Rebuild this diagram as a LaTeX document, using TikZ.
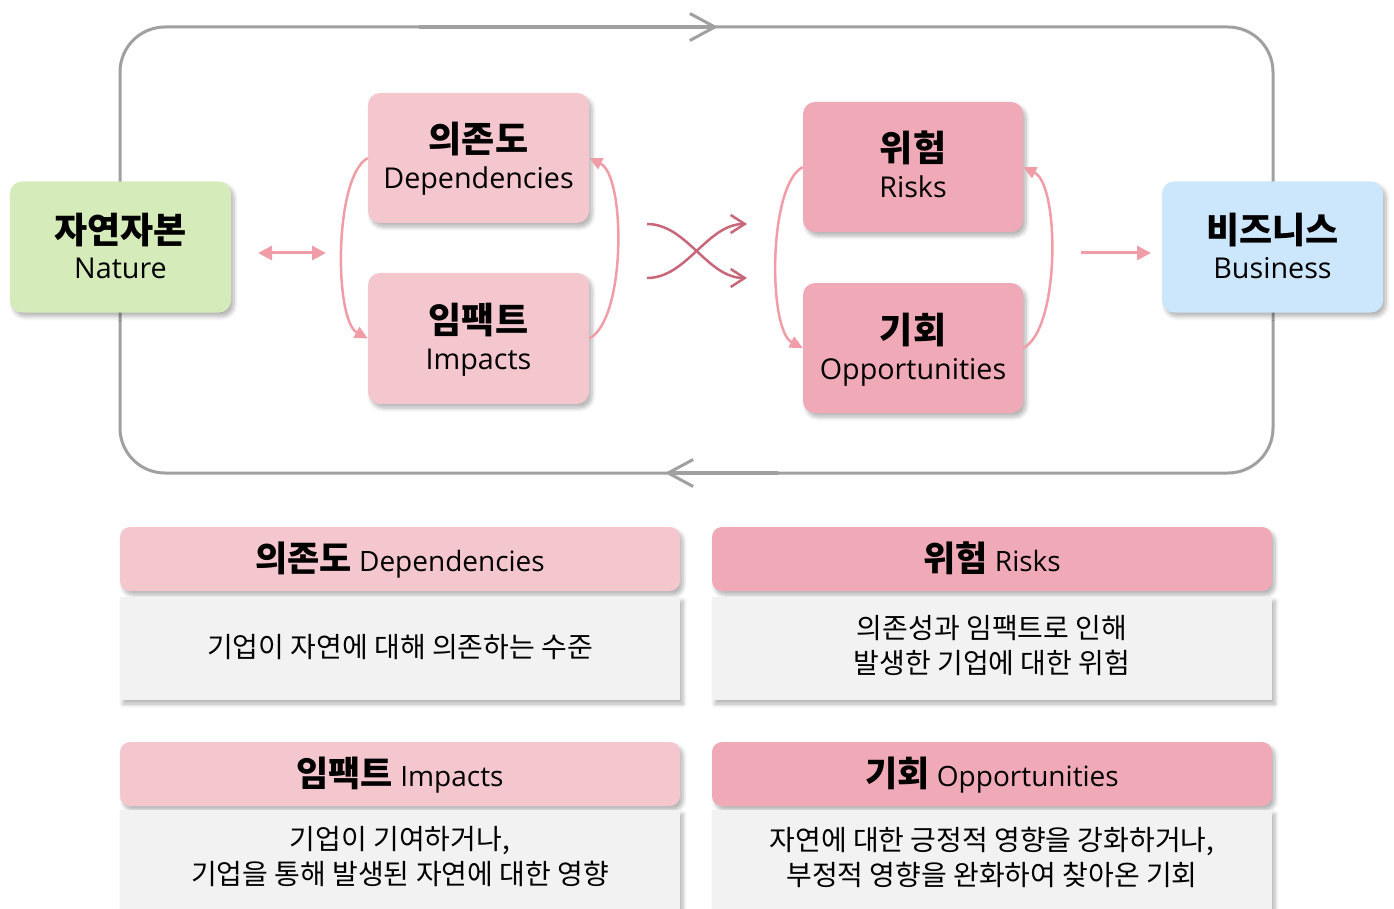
\documentclass[tikz,border=0pt]{standalone}
\usepackage{fontspec}
\setmainfont{Open Sans}
\newfontfamily\kr{Noto Sans CJK KR}
\newcommand\krhead{\kr\bfseries\fontsize{35}{40}\selectfont}
\usetikzlibrary{arrows.meta,shadows.blur}

\definecolor{natg}{HTML}{D5EBB9}
\definecolor{busb}{HTML}{CCE6FB}
\definecolor{lpink}{HTML}{F4C6CE}
\definecolor{dpink}{HTML}{F0A9B6}
\definecolor{arrpink}{HTML}{F09DA8}
\definecolor{crosspink}{HTML}{C8667A}
\definecolor{loopgrey}{HTML}{A0A0A0}
\definecolor{descgrey}{HTML}{F2F2F2}

\begin{document}
\begin{tikzpicture}[x=1pt,y=-1pt,
  shad/.style={blur shadow={shadow xshift=3pt, shadow yshift=-4pt, shadow opacity=30, shadow blur radius=4pt, shadow blur steps=6}},
  box/.style={shad, rounded corners=12pt, inner sep=0pt, minimum width=221pt, minimum height=131pt},
  hdr/.style={shad, rounded corners=10pt, inner sep=0pt, minimum width=560pt, minimum height=64pt},
  desc/.style={shad, fill=descgrey, inner sep=0pt, minimum width=560pt},
  ttl/.style={anchor=base, inner sep=0pt, font=\kr\bfseries\fontsize{36}{40}\selectfont},
  eng/.style={anchor=base, inner sep=0pt, font=\fontsize{28.7}{34}\selectfont},
  htxt/.style={anchor=base, inner sep=0pt, font=\fontsize{28}{32}\selectfont},
  dtxt/.style={align=center, inner sep=0pt, font=\kr\fontsize{28}{35}\selectfont},
  looparr/.style={draw=loopgrey, line width=4pt, line cap=round, -{Straight Barb[length=25pt, width=27pt, line width=3pt]}},
  pinkarr/.style={draw=arrpink, line width=3pt, -{Triangle[length=14pt, width=14pt]}},
  crossarr/.style={draw=crosspink, line width=2.5pt, -{Straight Barb[length=14pt, width=18pt, line width=2.5pt]}}
]
\useasboundingbox (0,0) rectangle (1394,909);

% outer loop
\draw[draw=loopgrey, line width=3pt, rounded corners=45pt] (120,27) rectangle (1273,473);
\coordinate (la1) at (420,27);
\coordinate (la2) at (718,27);
\coordinate (lb1) at (777,473);
\coordinate (lb2) at (665,473);
\draw[looparr] (la1) -- (la2);
\draw[looparr] (lb1) -- (lb2);

% main boxes
\node[box, fill=natg] (nature) at (120.5,247) {};
\node[box, fill=busb] (business) at (1272.5,247) {};
\node[box, fill=lpink, minimum height=130pt] (dep) at (478.5,158) {};
\node[box, fill=lpink] (imp) at (478.5,338.5) {};
\node[box, fill=dpink, minimum width=220pt, minimum height=130pt] (risk) at (913,167) {};
\node[box, fill=dpink, minimum width=220pt, minimum height=130pt] (opp) at (913,348) {};

\node[ttl] (natT) at ([yshift=3pt]nature.center) {자연자본};
\node[eng] (natE) at ([yshift=-31pt]nature.center) {Nature};
\node[ttl] (busT) at ([yshift=3pt]business.center) {비즈니스};
\node[eng] (busE) at ([yshift=-31pt]business.center) {Business};
\node[ttl] (depT) at ([yshift=5pt]dep.center) {의존도};
\node[eng] (depE) at ([yshift=-31pt]dep.center) {Dependencies};
\node[ttl] (impT) at ([yshift=5pt]imp.center) {임팩트};
\node[eng] (impE) at ([yshift=-31pt]imp.center) {Impacts};
\node[ttl] (riskT) at ([yshift=5pt]risk.center) {위험};
\node[eng] (riskE) at ([yshift=-31pt]risk.center) {Risks};
\node[ttl] (oppT) at ([yshift=5pt]opp.center) {기회};
\node[eng] (oppE) at ([yshift=-31pt]opp.center) {Opportunities};

% pink arrows
\coordinate (na1) at (258,253);
\coordinate (na2) at (326,253);
\draw[pinkarr, {Triangle[length=14pt, width=14pt]}-{Triangle[length=14pt, width=14pt]}] (na1) -- (na2);
\coordinate (ba1) at (1081,253);
\coordinate (ba2) at (1151,253);
\draw[pinkarr] (ba1) -- (ba2);

\draw[pinkarr, line width=2.5pt, -{Triangle[length=13pt, width=12pt]}] (dep.west) .. controls (334,176) and (334,320) .. (imp.west);
\draw[pinkarr, line width=2.5pt, -{Triangle[length=13pt, width=12pt]}] (imp.east) .. controls (626,320) and (626,176) .. (dep.east);
\draw[pinkarr, line width=2.5pt, -{Triangle[length=13pt, width=12pt]}] (risk.west) .. controls (768,185) and (768,330) .. (opp.west);
\draw[pinkarr, line width=2.5pt, -{Triangle[length=13pt, width=12pt]}] (opp.east) .. controls (1060,330) and (1060,185) .. (risk.east);

% crossing arrows
\coordinate (c1) at (647,224);
\coordinate (c2) at (647,278);
\coordinate (c3) at (747,278);
\coordinate (c4) at (747,224);
\draw[crossarr] (c1) .. controls (687,224) and (707,278) .. (c3);
\draw[crossarr] (c2) .. controls (687,278) and (707,224) .. (c4);

% bottom panels
\node[hdr, fill=lpink] (h1) at (400,559) {};
\node[desc, minimum height=103pt] (d1) at (400,648.5) {};
\node[hdr, fill=dpink] (h2) at (992,559) {};
\node[desc, minimum height=103pt] (d2) at (992,648.5) {};
\node[hdr, fill=lpink] (h3) at (400,774) {};
\node[desc, minimum height=130pt] (d3) at (400,875) {};
\node[hdr, fill=dpink] (h4) at (992,774) {};
\node[desc, minimum height=130pt] (d4) at (992,875) {};

\node[htxt] (h1t) at ([yshift=-12pt]h1.center) {{\krhead 의존도} Dependencies};
\node[htxt] (h2t) at ([yshift=-12pt]h2.center) {{\krhead 위험} Risks};
\node[htxt] (h3t) at ([yshift=-12pt]h3.center) {{\krhead 임팩트} Impacts};
\node[htxt] (h4t) at ([yshift=-12pt]h4.center) {{\krhead 기회} Opportunities};

\node[dtxt] (d1t) at (400,647) {기업이 자연에 대해 의존하는 수준};
\node[dtxt] (d2t) at (992,646) {의존성과 임팩트로 인해\\발생한 기업에 대한 위험};
\node[dtxt] (d3t) at (400,857) {기업이 기여하거나,\\기업을 통해 발생된 자연에 대한 영향};
\node[dtxt] (d4t) at (992,857) {자연에 대한 긍정적 영향을 강화하거나,\\부정적 영향을 완화하여 찾아온 기회};
\end{tikzpicture}
\end{document}
